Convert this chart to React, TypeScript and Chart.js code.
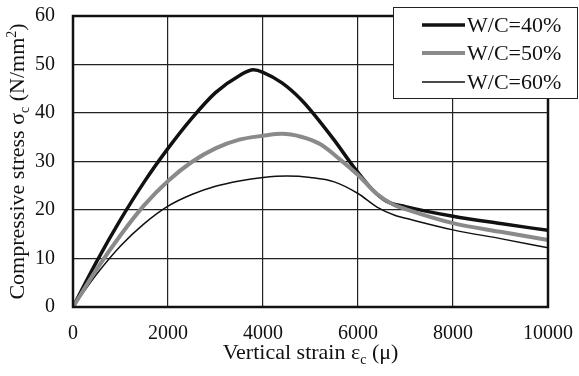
import React, { useEffect, useRef } from "react";
import { Chart, registerables } from "chart.js";

Chart.register(...registerables);

// Strain (μ) sample positions and stress (N/mm²) for each water/cement ratio
const strain40 = [0, 500, 1000, 1500, 2000, 2500, 3000, 3500, 3800, 4000, 4400, 4800, 5000, 5500, 5900, 6300, 6600, 7000, 8000, 9000, 10000];
const stress40 = [0, 9.4, 18.0, 25.8, 32.7, 38.9, 44.2, 47.7, 48.9, 48.4, 46.2, 42.8, 40.6, 34.4, 29.0, 24.2, 21.8, 20.7, 18.7, 17.2, 15.8];

const strain50 = [0, 500, 1000, 1500, 2000, 2500, 3000, 3500, 4000, 4400, 4800, 5200, 5600, 6000, 6400, 6750, 7000, 8000, 9000, 10000];
const stress50 = [0, 7.8, 14.8, 21.0, 26.0, 29.9, 32.7, 34.5, 35.3, 35.7, 35.1, 33.6, 30.6, 27.2, 23.3, 21.1, 20.2, 17.3, 15.5, 13.8];

const strain60 = [0, 500, 1000, 1500, 2000, 2500, 3000, 3500, 4000, 4500, 5000, 5500, 6000, 6400, 6800, 7000, 8000, 9000, 10000];
const stress60 = [0, 6.8, 12.6, 17.2, 20.8, 23.2, 24.9, 26.0, 26.7, 27.0, 26.7, 25.8, 23.4, 20.6, 18.8, 18.3, 15.9, 14.1, 12.2];

const seriesLabels = ["W/C=40%", "W/C=50%", "W/C=60%"];
const seriesColors = ["#111111", "#8a8a8a", "#111111"];
const seriesWidths = [3.5, 4, 1.5];

const xTicks = [0, 2000, 4000, 6000, 8000, 10000];
const yTicks = [0, 10, 20, 30, 40, 50, 60];

const FONT = "'Liberation Serif', 'Times New Roman', serif";

const pts = (xs: number[], ys: number[]) => xs.map((x, i) => ({ x, y: ys[i] }));

type Seg = { t: string; mode?: "sub" | "sup" };

function drawRich(ctx: CanvasRenderingContext2D, segs: Seg[], cx: number, cy: number, size: number) {
  const small = Math.round(size * 0.65);
  const widths = segs.map((s) => {
    ctx.font = `${s.mode ? small : size}px ${FONT}`;
    return ctx.measureText(s.t).width;
  });
  const total = widths.reduce((a, b) => a + b, 0);
  let x = cx - total / 2;
  ctx.textAlign = "left";
  ctx.textBaseline = "alphabetic";
  const base = cy + size * 0.33;
  segs.forEach((s, i) => {
    ctx.font = `${s.mode ? small : size}px ${FONT}`;
    const dy = s.mode === "sub" ? size * 0.22 : s.mode === "sup" ? -size * 0.38 : 0;
    ctx.fillText(s.t, x, base + dy);
    x += widths[i];
  });
}

const decorations = {
  id: "decorations",
  afterDatasetsDraw(chart: any) {
    const { ctx, chartArea } = chart;
    ctx.save();
    ctx.strokeStyle = "#111";
    ctx.lineWidth = 2.5;
    ctx.strokeRect(chartArea.left, chartArea.top, chartArea.right - chartArea.left, chartArea.bottom - chartArea.top);
    ctx.restore();
  },
  afterDraw(chart: any) {
    const { ctx, chartArea } = chart;
    ctx.save();
    ctx.fillStyle = "#111";
    // x-axis title
    drawRich(ctx, [{ t: "Vertical strain ε" }, { t: "c", mode: "sub" }, { t: " (μ)" }], (chartArea.left + chartArea.right) / 2, 352, 22);
    // y-axis title
    ctx.save();
    ctx.translate(17, (chartArea.top + chartArea.bottom) / 2);
    ctx.rotate(-Math.PI / 2);
    drawRich(
      ctx,
      [{ t: "Compressive stress σ" }, { t: "c", mode: "sub" }, { t: " (N/mm" }, { t: "2", mode: "sup" }, { t: ")" }],
      0,
      0,
      22
    );
    ctx.restore();

    // legend box
    const bx = 393, by = 7, bw = 184, bh = 91;
    ctx.fillStyle = "#fff";
    ctx.fillRect(bx, by, bw, bh);
    ctx.strokeStyle = "#222";
    ctx.lineWidth = 1;
    ctx.strokeRect(bx + 0.5, by + 0.5, bw, bh);
    const rows = [25, 53, 82];
    seriesLabels.forEach((lab, i) => {
      ctx.strokeStyle = seriesColors[i];
      ctx.lineWidth = seriesWidths[i];
      ctx.beginPath();
      ctx.moveTo(422, rows[i]);
      ctx.lineTo(465, rows[i]);
      ctx.stroke();
      ctx.fillStyle = "#111";
      ctx.font = `22px ${FONT}`;
      ctx.textAlign = "left";
      ctx.textBaseline = "middle";
      ctx.fillText(lab, 467, rows[i] + 1);
    });
    ctx.restore();
  },
};

export default function App() {
  const ref = useRef<HTMLCanvasElement | null>(null);

  useEffect(() => {
    if (!ref.current) return;
    const data = [pts(strain40, stress40), pts(strain50, stress50), pts(strain60, stress60)];
    const chart = new Chart(ref.current, {
      type: "line",
      data: {
        datasets: seriesLabels.map((label, i) => ({
          label,
          data: data[i],
          borderColor: seriesColors[i],
          borderWidth: seriesWidths[i],
          pointRadius: 0,
          fill: false,
          cubicInterpolationMode: "monotone" as const,
          order: i === 1 ? 0 : i === 0 ? 1 : 2,
        })),
      },
      options: {
        responsive: false,
        animation: false,
        devicePixelRatio: 1,
        layout: { padding: { top: 16, right: 31, left: 0, bottom: 0 } },
        plugins: { legend: { display: false }, tooltip: { enabled: false } },
        scales: {
          x: {
            type: "linear",
            min: 0,
            max: 10000,
            afterBuildTicks: (scale: any) => {
              scale.ticks = xTicks.map((v) => ({ value: v }));
            },
            afterFit: (scale: any) => {
              scale.height = 69;
              scale.paddingLeft = 0;
              scale.paddingRight = 0;
            },
            grid: { color: "#222", lineWidth: 1.2, drawTicks: false },
            border: { display: false },
            ticks: {
              color: "#111",
              font: { family: FONT, size: 20 },
              padding: 15,
              maxRotation: 0,
              callback: (v: any) => String(v),
            },
          },
          y: {
            type: "linear",
            min: 0,
            max: 60,
            afterBuildTicks: (scale: any) => {
              scale.ticks = yTicks.map((v) => ({ value: v }));
            },
            afterFit: (scale: any) => {
              scale.width = 73;
              scale.paddingTop = 0;
              scale.paddingBottom = 0;
            },
            grid: { color: "#222", lineWidth: 1.2, drawTicks: false },
            border: { display: false },
            ticks: { color: "#111", font: { family: FONT, size: 20 }, padding: 18, callback: (v: any) => String(v) },
          },
        },
      },
      plugins: [decorations],
    });
    return () => chart.destroy();
  }, []);

  return (
    <div style={{ position: "absolute", left: 0, top: 0, width: 579, height: 376, background: "#fff" }}>
      <canvas ref={ref} width={579} height={376} />
    </div>
  );
}
